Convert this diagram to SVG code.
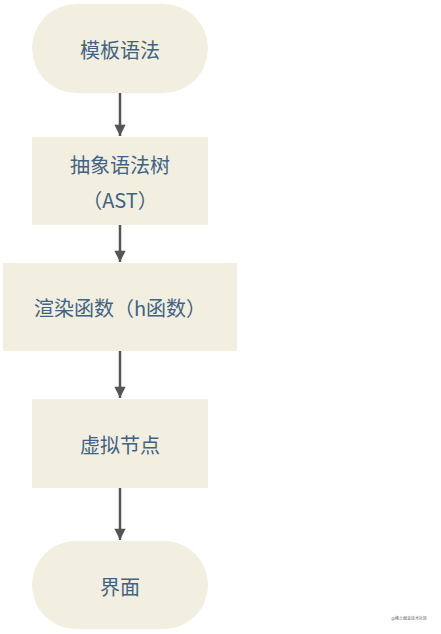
<svg xmlns="http://www.w3.org/2000/svg" width="441" height="634" viewBox="0 0 441 634">
<style>
.node{fill:#f3efe0}
.lbl{font-family:"Noto Sans CJK SC","Noto Sans",sans-serif;font-size:20px;fill:#3f6384;text-anchor:middle;dominant-baseline:central}
.edge{stroke:#555555;stroke-width:2.5;fill:none}
.wm{font-family:"Noto Sans CJK SC",sans-serif;font-size:4px;fill:#666;text-anchor:end}
</style>
<defs>
<marker id="ah" viewBox="0 0 13 15" refX="13" refY="6.5" markerUnits="userSpaceOnUse" markerWidth="15" markerHeight="13" orient="auto">
<path d="M0,0 L13,6.5 L0,13 Z" fill="#555555"/>
</marker>
</defs>
<rect width="441" height="634" fill="#ffffff"/>
<g id="connectors">
<line class="edge" x1="120" y1="93" x2="120" y2="136" marker-end="url(#ah)"/>
<line class="edge" x1="120" y1="225" x2="120" y2="262" marker-end="url(#ah)"/>
<line class="edge" x1="120" y1="351" x2="120" y2="398" marker-end="url(#ah)"/>
<line class="edge" x1="120" y1="488" x2="120" y2="540" marker-end="url(#ah)"/>
</g>
<g id="n1">
<rect class="node" x="32" y="4" width="176" height="89" rx="44.5"/>
<text class="lbl" x="120" y="49">模板语法</text>
</g>
<g id="n2">
<rect class="node" x="32" y="137" width="176" height="88"/>
<text class="lbl" x="120" y="164">抽象语法树</text>
<text class="lbl" x="120" y="199">（AST）</text>
</g>
<g id="n3">
<rect class="node" x="3" y="263" width="234" height="88"/>
<text class="lbl" x="120" y="307">渲染函数（h函数）</text>
</g>
<g id="n4">
<rect class="node" x="32" y="399" width="176" height="89"/>
<text class="lbl" x="120" y="444">虚拟节点</text>
</g>
<g id="n5">
<rect class="node" x="32" y="541" width="176" height="88" rx="44"/>
<text class="lbl" x="120" y="586">界面</text>
</g>
<text class="wm" x="427" y="620">@稀土掘金技术社区</text>
</svg>
